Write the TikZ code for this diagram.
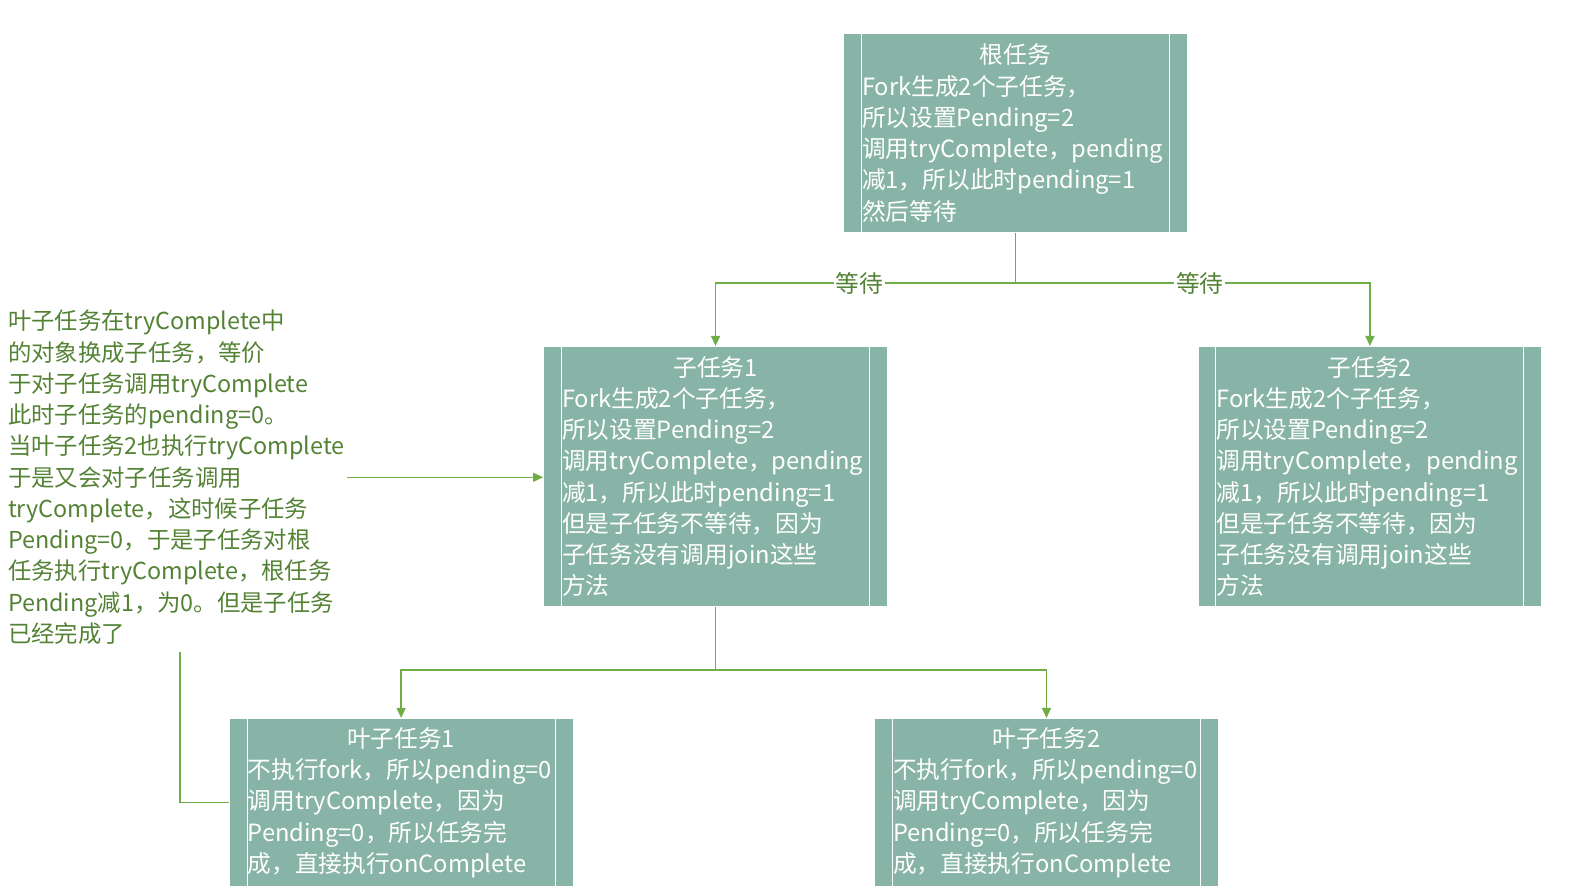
\documentclass[tikz,border=0pt]{standalone}
\usepackage{fontspec}
\setmainfont{Noto Sans CJK SC}
\usetikzlibrary{arrows.meta, positioning}
\definecolor{taskteal}{RGB}{136, 180, 167}
\definecolor{linkgreen}{RGB}{112, 173, 71}
\definecolor{notegreen}{RGB}{84, 130, 53}

\begin{document}
\begin{tikzpicture}[
    x=0.02cm, y=-0.02cm,
    task/.style={fill=taskteal, draw=white, line width=0.6pt, text=white,
                 minimum width=6.88cm, text width=6.14cm, inner xsep=0.37cm,
                 inner ysep=2pt, align=left,
                 font=\fontsize{13.5pt}{17.8pt}\selectfont,
                 path picture={
                   \draw[white, line width=0.6pt]
                     ([xshift=0.36cm]path picture bounding box.north west) --
                     ([xshift=0.36cm]path picture bounding box.south west)
                     ([xshift=-0.36cm]path picture bounding box.north east) --
                     ([xshift=-0.36cm]path picture bounding box.south east);}},
    note/.style={text=notegreen, align=left, inner sep=1pt,
                 font=\fontsize{13.3pt}{17.8pt}\selectfont},
    lbl/.style={fill=white, text=notegreen, inner sep=1pt,
                font=\fontsize{13.5pt}{17.8pt}\selectfont},
    link/.style={linkgreen, line width=0.8pt},
    arr/.style={link, -{Triangle[length=2mm, width=1.8mm]}}
]
    \useasboundingbox (0,0) rectangle (1580,892);

    % tasks
    \node[task, minimum height=3.98cm] (root) at (1015.5,133)
        {\makebox[\hsize]{根任务}\\
         Fork生成2个子任务，\\
         所以设置Pending=2\\
         调用tryComplete，pending\\
         减1，所以此时pending=1\\
         然后等待};
    \node[task, minimum height=5.2cm, below=2.26cm of root, xshift=-6cm] (sub1)
        {\makebox[\hsize]{子任务1}\\
         Fork生成2个子任务，\\
         所以设置Pending=2\\
         调用tryComplete，pending\\
         减1，所以此时pending=1\\
         但是子任务不等待，因为\\
         子任务没有调用join这些\\
         方法};
    \node[task, minimum height=5.2cm, below=2.26cm of root, xshift=7.09cm] (sub2)
        {\makebox[\hsize]{子任务2}\\
         Fork生成2个子任务，\\
         所以设置Pending=2\\
         调用tryComplete，pending\\
         减1，所以此时pending=1\\
         但是子任务不等待，因为\\
         子任务没有调用join这些\\
         方法};
    \node[task, minimum height=3.36cm, below=2.22cm of sub1, xshift=-6.29cm] (leaf1)
        {\makebox[\hsize]{叶子任务1}\\
         不执行fork，所以pending=0\\
         调用tryComplete，因为\\
         Pending=0，所以任务完\\
         成，直接执行onComplete};
    \node[task, minimum height=3.36cm, below=2.22cm of sub1, xshift=6.62cm] (leaf2)
        {\makebox[\hsize]{叶子任务2}\\
         不执行fork，所以pending=0\\
         调用tryComplete，因为\\
         Pending=0，所以任务完\\
         成，直接执行onComplete};

    % note on the left
    \node[note, anchor=north west] (note) at (6,308)
        {叶子任务在tryComplete中\\
         的对象换成子任务，等价\\
         于对子任务调用tryComplete\\
         此时子任务的pending=0。\\
         当叶子任务2也执行tryComplete\\
         于是又会对子任务调用\\
         tryComplete，这时候子任务\\
         Pending=0，于是子任务对根\\
         任务执行tryComplete，根任务\\
         Pending减1，为0。但是子任务\\
         已经完成了};

    % connectors
    \coordinate[below=1cm of root] (rootfork);
    \coordinate[below=1.26cm of sub1] (subfork);
    \draw[link] (root) -- (rootfork);
    \draw[arr] (rootfork) -| node[lbl, pos=0.26] {等待} (sub1);
    \draw[arr] (rootfork) -| node[lbl, pos=0.26] {等待} (sub2);
    \draw[link] (sub1) -- (subfork);
    \draw[arr] (subfork) -| (leaf1);
    \draw[arr] (subfork) -| (leaf2);
    \draw[arr] (note.east) -- (note.east -| sub1.west);
    \draw[link] ([xshift=2pt, yshift=-3pt]note.south) |- (leaf1.west);
\end{tikzpicture}
\end{document}
